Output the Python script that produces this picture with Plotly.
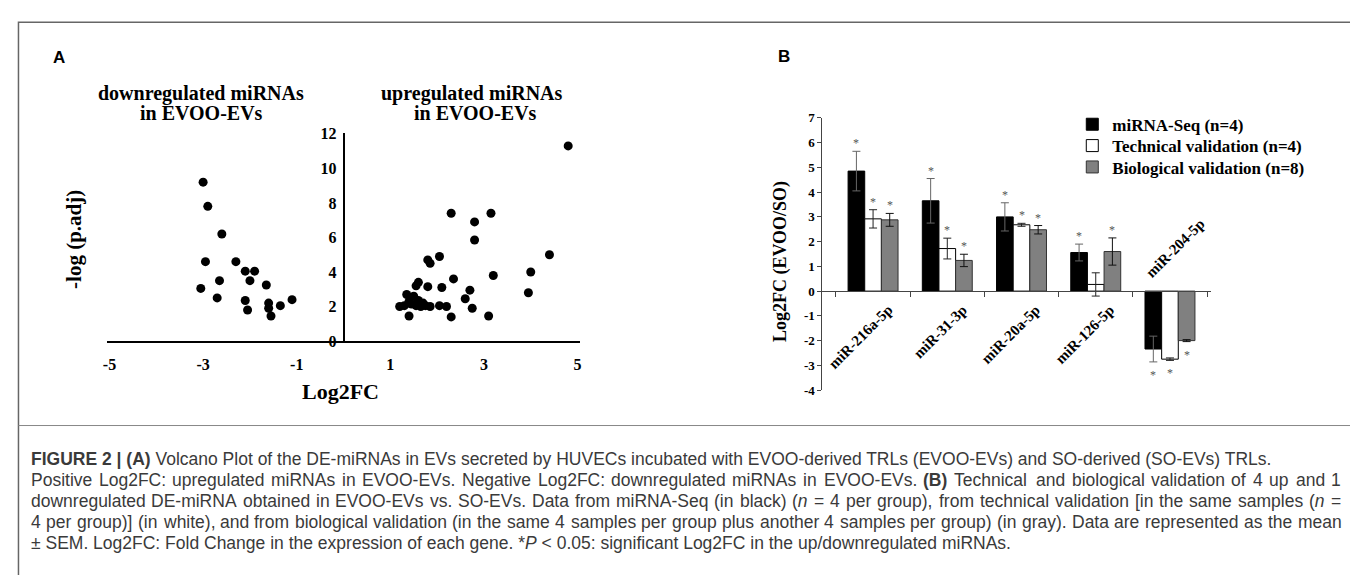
import re
import plotly.graph_objects as go

W, H = 1358, 575

# ---------------- Panel A data (volcano) ----------------
down_x = [-3.0, -2.9, -2.6, -2.95, -2.3, -2.1, -1.9, -2.0, -2.65, -3.05,
          -1.65, -2.7, -2.1, -2.05, -1.6, -1.6, -1.55, -1.35, -1.1]
down_y = [9.2, 7.8, 6.2, 4.6, 4.6, 4.05, 4.05, 3.5, 3.5, 3.05,
          3.25, 2.5, 2.35, 1.8, 2.2, 1.9, 1.45, 2.05, 2.4]
up_x = [1.2, 1.3, 1.45, 1.55, 1.65, 1.75, 1.85, 2.05, 2.2, 1.35, 1.5, 1.6,
        1.4, 1.7, 1.4, 1.6, 1.55, 1.8, 2.1, 1.8, 1.85, 2.05, 2.35, 2.6,
        2.7, 2.75, 2.3, 3.1, 3.2, 3.95, 4.0, 4.4, 4.8, 2.3, 2.8, 3.15, 2.8]
up_y = [2.0, 2.05, 2.15, 2.05, 2.0, 2.05, 2.0, 2.05, 2.0, 2.7, 2.6, 2.35,
        2.3, 2.2, 1.45, 3.4, 3.2, 3.15, 3.1, 4.7, 4.5, 4.9, 3.6, 2.45,
        2.95, 1.9, 1.4, 1.45, 3.8, 2.8, 4.0, 5.0, 11.3, 7.4, 6.9, 7.4, 5.85]
a_xticks = [-5, -3, -1, 1, 3, 5]
a_xtick_text = ["-5", "-3", "-1", "1", "3", "5"]
a_yticks = [0, 2, 4, 6, 8, 10, 12]

# ---------------- Panel B data (validation bars) ----------------
categories = ["miR-216a-5p", "miR-31-3p", "miR-20a-5p", "miR-126-5p", "miR-204-5p"]
seq_vals = [4.85, 3.65, 3.0, 1.56, -2.34]
seq_err = [0.8, 0.9, 0.57, 0.34, 0.52]
tech_vals = [2.92, 1.72, 2.68, 0.27, -2.75]
tech_err = [0.37, 0.42, 0.06, 0.47, 0.05]
bio_vals = [2.88, 1.24, 2.48, 1.6, -2.0]
bio_err = [0.26, 0.25, 0.17, 0.55, 0.04]
seq_sig = [True, True, True, True, True]
tech_sig = [True, True, True, False, True]
bio_sig = [True, True, True, True, True]
b_yticks = [-4, -3, -2, -1, 0, 1, 2, 3, 4, 5, 6, 7]
b_ytick_text = ["-4", "-3", "-2", "-1", "0", "1", "2", "3", "4", "5", "6", "7"]
series_names = ["miRNA-Seq (n=4)", "Technical validation (n=4)", "Biological validation (n=8)"]

caption_lines = [
    "<b>FIGURE 2 | (A)</b> Volcano Plot of the DE-miRNAs in EVs secreted by HUVECs incubated with EVOO-derived TRLs (EVOO-EVs) and SO-derived (SO-EVs) TRLs.",
    "Positive Log2FC: upregulated miRNAs in EVOO-EVs. Negative Log2FC: downregulated miRNAs in EVOO-EVs. <b>(B)</b> Technical and biological validation of 4 up and 1",
    "downregulated DE-miRNA obtained in EVOO-EVs vs. SO-EVs. Data from miRNA-Seq (in black) (<i>n</i> = 4 per group), from technical validation [in the same samples (<i>n</i> =",
    "4 per group)] (in white), and from biological validation (in the same 4 samples per group plus another 4 samples per group) (in gray). Data are represented as the mean",
    "± SEM. Log2FC: Fold Change in the expression of each gene. *<i>P</i> &lt; 0.05: significant Log2FC in the up/downregulated miRNAs.",
]
caption_justified = [False, True, True, True, False]


def px(x):
    return x / W


def py(y):
    return 1 - y / H


SERIF = "Liberation Serif"
SANS = "Liberation Sans"

# Arial / Liberation Sans advance widths (1/1000 em), used to justify caption lines
_AW = {' ': 278, '(': 333, ')': 333, '*': 389, ',': 278, '-': 333, '.': 278, '/': 278,
       ':': 278, ';': 278, '<': 584, '=': 584, '[': 278, ']': 278, '|': 260, '±': 584}
for _c in "0123456789":
    _AW[_c] = 556
_AW.update(dict(zip("ABCDEFGHIJKLMNOPQRSTUVWXYZ",
                    [667, 667, 722, 722, 667, 611, 778, 722, 278, 500, 667, 556, 833,
                     722, 778, 667, 778, 722, 667, 611, 722, 667, 944, 667, 667, 611])))
_AW.update(dict(zip("abcdefghijklmnopqrstuvwxyz",
                    [556, 556, 500, 556, 556, 278, 556, 556, 222, 222, 500, 222, 833,
                     556, 556, 556, 556, 333, 500, 278, 556, 500, 722, 500, 500, 500])))
_BW = {'(': 333, ')': 333, 'B': 722}


def word_width(word, size):
    bold = "<b>" in word
    plain = re.sub(r"<[^>]+>", "", word).replace("&lt;", "<")
    tot = 0
    for ch in plain:
        tot += (_BW.get(ch, 611) if bold else _AW.get(ch, 556))
    return tot * size / 1000.0


fig = go.Figure()

# ---- Panel A ----
a_xr = [-5.05, 5.05]
a_yr = [0, 12.05]
a_xdom = [px(95.6), px(570.4)]
a_ydom = [py(335), py(335 - 12.05 * 17.8)]

fig.add_trace(go.Scatter(x=down_x, y=down_y, mode="markers", xaxis="x", yaxis="y",
                         marker=dict(color="black", size=9), showlegend=False))
fig.add_trace(go.Scatter(x=up_x, y=up_y, mode="markers", xaxis="x", yaxis="y",
                         marker=dict(color="black", size=9), showlegend=False))

# ---- Panel B ----
b_xdom = [px(814), px(1204)]
b_yr = [-4, 7]
b_ydom = [py(385.5), py(105)]
zero_pos = b_ydom[0] + (0 - b_yr[0]) / (b_yr[1] - b_yr[0]) * (b_ydom[1] - b_ydom[0])

bar_specs = [
    (seq_vals, seq_err, "#000000", "#000000", "#666666", seq_sig),
    (tech_vals, tech_err, "#ffffff", "#000000", "#222222", tech_sig),
    (bio_vals, bio_err, "#808080", "#333333", "#111111", bio_sig),
]
legend_ids = ["legend", "legend2", "legend3"]
for name, lid, (vals, errs, fill, edge, ecol, _s) in zip(series_names, legend_ids, bar_specs):
    fig.add_trace(go.Bar(
        x=categories, y=vals, name=name, xaxis="x2", yaxis="y2", legend=lid,
        marker=dict(color=fill, line=dict(color=edge, width=1)),
        error_y=dict(type="data", array=errs, visible=True, color=ecol,
                     thickness=1, width=4),
    ))

bargap = 0.327
bar_w = (1 - bargap) / 3
annotations = []

# significance asterisks
for j, (vals, errs, fill, edge, ecol, sig) in enumerate(bar_specs):
    off = (j - 1) * bar_w
    for i, (v, e, s) in enumerate(zip(vals, errs, sig)):
        if not s:
            continue
        if v >= 0:
            annotations.append(dict(x=i + off, y=v + e, xref="x2", yref="y2", text="*",
                                    showarrow=False, yanchor="bottom", yshift=-1,
                                    font=dict(family=SERIF, size=12, color="#555555")))
        else:
            annotations.append(dict(x=i + off, y=v - e, xref="x2", yref="y2", text="*",
                                    showarrow=False, yanchor="top", yshift=-4,
                                    font=dict(family=SERIF, size=12, color="#555555")))

# rotated category labels
for i, (cat, v) in enumerate(zip(categories, seq_vals)):
    if v >= 0:
        annotations.append(dict(x=i, y=0, xref="x2", yref="y2", text=f"<b>{cat}</b>",
                                textangle=-45, showarrow=False, xanchor="right", yanchor="top",
                                xshift=25, yshift=-8,
                                font=dict(family=SERIF, size=15, color="black")))
    else:
        annotations.append(dict(x=i, y=0, xref="x2", yref="y2", text=f"<b>{cat}</b>",
                                textangle=-45, showarrow=False, xanchor="left", yanchor="bottom",
                                xshift=-30, yshift=8,
                                font=dict(family=SERIF, size=15, color="black")))


def label(text, x, y, size, family=SERIF, angle=0, color="black", xanchor="center"):
    annotations.append(dict(x=px(x), y=py(y), xref="paper", yref="paper", text=text,
                            showarrow=False, textangle=angle, xanchor=xanchor, yanchor="middle",
                            font=dict(family=family, size=size, color=color)))


label("<b>A</b>", 47, 43, 17, family=SANS)
label("<b>B</b>", 775, 42, 17, family=SANS)
label("<b>downregulated miRNAs</b>", 190, 80, 20)
label("<b>in EVOO-EVs</b>", 190, 100, 20)
label("<b>upregulated miRNAs</b>", 462, 80, 20)
label("<b>in EVOO-EVs</b>", 466, 100, 20)
label("<b>-log (p.adj)</b>", 62, 230, 21, angle=-90)
label("<b>Log2FC</b>", 330, 387, 22)
label("<b>Log2FC (EVOO/SO)</b>", 772, 253, 18, angle=-90)

# caption (justified lines are laid out word by word)
CAP_SIZE = 17.5
CAP_LEFT, CAP_RIGHT = 18, 1334
cap_font = dict(family=SANS, size=CAP_SIZE, color="#3a3a3a")
for k, (line, just) in enumerate(zip(caption_lines, caption_justified)):
    ycap = py(457 + 21.5 * k)
    if not just:
        annotations.append(dict(x=px(CAP_LEFT), y=ycap, xref="paper", yref="paper",
                                text=line, showarrow=False, xanchor="left", yanchor="middle",
                                borderpad=0, font=cap_font))
        continue
    words = line.split(" ")
    widths = [word_width(w, CAP_SIZE) for w in words]
    space = _AW[' '] * CAP_SIZE / 1000.0
    natural = sum(widths) + space * (len(words) - 1)
    extra = (CAP_RIGHT - CAP_LEFT - natural) / (len(words) - 1)
    xcur = CAP_LEFT
    for w, wd in zip(words, widths):
        annotations.append(dict(x=px(xcur), y=ycap, xref="paper", yref="paper",
                                text=w, showarrow=False, xanchor="left", yanchor="middle",
                                borderpad=0, font=cap_font))
        xcur += wd + space + extra

shapes = [
    dict(type="rect", xref="paper", yref="paper", x0=px(6.5), x1=px(1352.5),
         y0=-0.05, y1=py(6.5), line=dict(color="#666666", width=1.5)),
    dict(type="line", xref="paper", yref="paper", x0=px(6.5), x1=px(1352.5),
         y0=py(422), y1=py(422), line=dict(color="#888888", width=1)),
]

leg_font = dict(family=SERIF, size=17, color="black", weight="bold")
leg_rows = [112, 134, 156]


def leg(ypix):
    return dict(x=px(1065), y=py(ypix), xanchor="left", yanchor="middle",
                bgcolor="rgba(0,0,0,0)", font=leg_font)


fig.update_layout(
    width=W, height=H,
    margin=dict(l=0, r=0, t=0, b=0),
    paper_bgcolor="white", plot_bgcolor="rgba(0,0,0,0)",
    showlegend=True,
    barmode="group", bargap=bargap, bargroupgap=0,
    xaxis=dict(domain=a_xdom, range=a_xr, anchor="y", showline=True, linecolor="black",
               linewidth=1.5, showgrid=False, zeroline=False, tickvals=a_xticks,
               ticktext=a_xtick_text, ticks="", ticklabelstandoff=8,
               tickfont=dict(family=SERIF, size=16, color="black", weight="bold")),
    yaxis=dict(domain=a_ydom, range=a_yr, anchor="free",
               position=(a_xdom[0] + a_xdom[1]) / 2, showline=True, linecolor="black",
               linewidth=1.5, showgrid=False, zeroline=False, tickvals=a_yticks, ticks="",
               ticklabelstandoff=3,
               tickfont=dict(family=SERIF, size=16, color="black", weight="bold")),
    xaxis2=dict(domain=b_xdom, anchor="free", position=zero_pos, type="category",
                showline=True, linecolor="#444444", linewidth=1, showgrid=False,
                zeroline=False, ticks="outside", ticklen=5, tickcolor="#444444",
                tickson="boundaries", showticklabels=False),
    yaxis2=dict(domain=b_ydom, range=b_yr, anchor="x2", showline=True, linecolor="#444444",
                linewidth=1, showgrid=False, zeroline=False, ticks="outside", ticklen=4,
                tickcolor="#444444", tickvals=b_yticks, ticktext=b_ytick_text,
                tickfont=dict(family=SERIF, size=13, color="black", weight="bold")),
    legend=leg(leg_rows[0]),
    legend2=leg(leg_rows[1]),
    legend3=leg(leg_rows[2]),
    annotations=annotations,
    shapes=shapes,
)

fig.write_html("out.html")
